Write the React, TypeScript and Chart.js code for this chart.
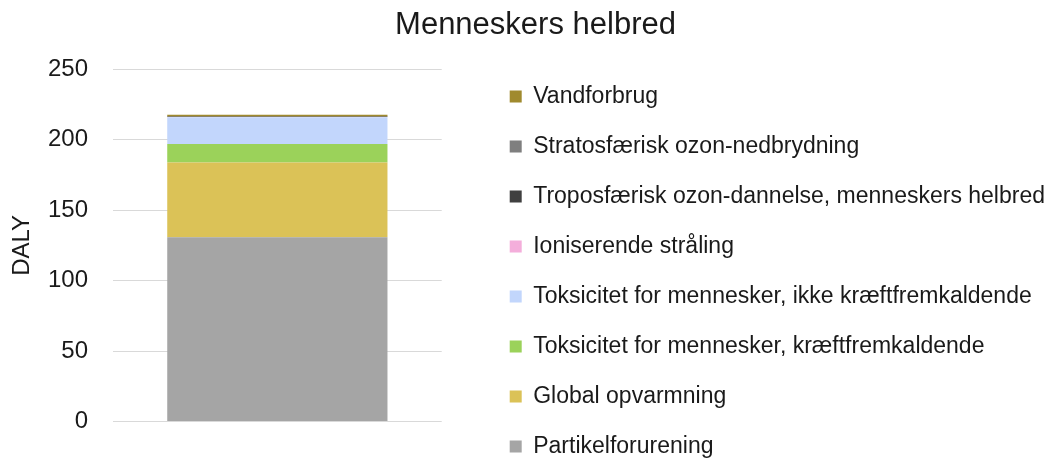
import React, { useEffect, useRef } from "react";
import { Chart, registerables } from "chart.js";

Chart.register(...registerables);

const title = "Menneskers helbred";
const yAxisTitle = "DALY";
const categories = [""];
const seriesNames = [
  "Partikelforurening",
  "Global opvarmning",
  "Toksicitet for mennesker, kræftfremkaldende",
  "Toksicitet for mennesker, ikke kræftfremkaldende",
  "Ioniserende stråling",
  "Troposfærisk ozon-dannelse, menneskers helbred",
  "Stratosfærisk ozon-nedbrydning",
  "Vandforbrug",
];
const seriesValues = [130.8, 53.0, 13.2, 19.0, 0.05, 0.4, 0.05, 1.2];
const seriesColors = [
  "#A5A5A5",
  "#DBC257",
  "#9BD25A",
  "#C2D6FC",
  "#F4AEDB",
  "#404040",
  "#7F7F7F",
  "#A08A2E",
];
const yMin = 0;
const yMax = 250;
const yStep = 50;

const FONT = "'Liberation Sans', Arial, sans-serif";
const TEXT = "#1a1a1a";

// layout offset: moves the whole legend box down below the title area
const legendTopOffset = 58;

const legendShift = {
  id: "legendShift",
  afterLayout(chart: any) {
    const lg = chart.legend;
    if (lg) {
      lg.top += legendTopOffset;
      lg.bottom += legendTopOffset;
    }
  },
};

export default function App() {
  const ref = useRef<HTMLCanvasElement | null>(null);

  useEffect(() => {
    document.body.style.margin = "0";
    const canvas = ref.current;
    if (!canvas) return;
    const chart = new Chart(canvas, {
      type: "bar",
      data: {
        labels: categories,
        datasets: seriesNames.map((name, i) => ({
          label: name,
          data: [seriesValues[i]],
          backgroundColor: seriesColors[i],
          borderWidth: 0,
          barPercentage: 0.67,
          categoryPercentage: 1,
        })),
      },
      options: {
        animation: false,
        responsive: false,
        devicePixelRatio: 1,
        layout: { padding: { left: 16, right: 6, top: 0, bottom: 0 } },
        font: { family: FONT },
        plugins: {
          title: {
            display: true,
            text: title,
            color: TEXT,
            font: { family: FONT, size: 31, weight: "normal" },
            padding: { top: 7, bottom: 25 },
          },
          legend: {
            display: true,
            position: "right",
            align: "start",
            reverse: true,
            maxWidth: 700,
            labels: {
              color: TEXT,
              font: { family: FONT, size: 23, lineHeight: 1 },
              boxWidth: 12,
              boxHeight: 12,
              padding: 27,
            },
          },
          tooltip: { enabled: false },
        },
        scales: {
          x: {
            stacked: true,
            display: true,
            grid: { display: false },
            border: { display: false },
            ticks: { display: false },
            afterFit: (s: any) => {
              s.height = 37;
            },
          },
          y: {
            stacked: true,
            min: yMin,
            max: yMax,
            grid: { color: "#D9D9D9", drawTicks: false, lineWidth: 1 },
            border: { display: false },
            ticks: {
              stepSize: yStep,
              color: TEXT,
              padding: 25,
              font: { family: FONT, size: 24 },
            },
            title: {
              display: true,
              text: yAxisTitle,
              color: TEXT,
              font: { family: FONT, size: 24, lineHeight: 0.5 },
              padding: 0,
            },
            afterFit: (s: any) => {
              s.width = 97;
            },
          },
          gap: {
            type: "linear",
            position: "right",
            display: true,
            grid: { display: false },
            border: { display: false },
            ticks: { display: false },
            afterFit: (s: any) => {
              s.width = 41;
            },
          },
        },
      },
      plugins: [legendShift],
    } as any);
    return () => chart.destroy();
  }, []);

  return (
    <div style={{ width: 1061, height: 461 }}>
      <canvas ref={ref} width={1061} height={461} style={{ display: "block" }} />
    </div>
  );
}
